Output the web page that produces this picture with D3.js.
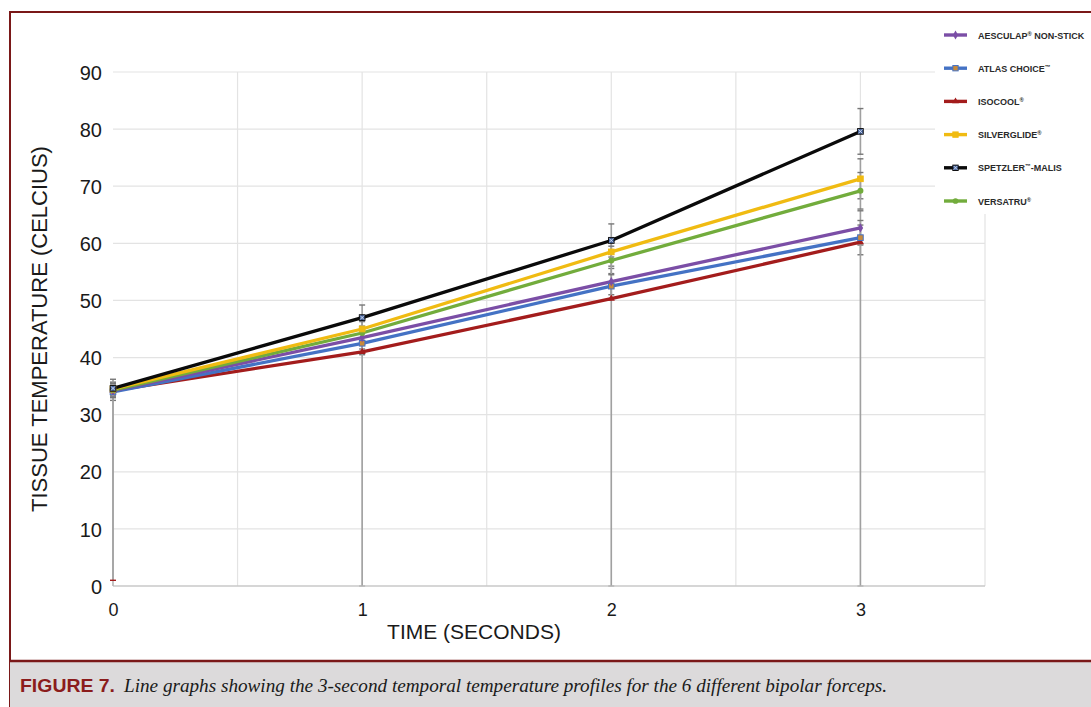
<!DOCTYPE html>
<html>
<head>
<meta charset="utf-8">
<script src="https://cdn.jsdelivr.net/npm/d3@7"></script>
<style>
  body { margin: 0; background: #fff; }
  svg { display: block; }
</style>
</head>
<body>
<div id="chart"></div>
<script>
// data
const times = [0, 1, 2, 3];
const names = ["AESCULAP", "ATLAS CHOICE", "ISOCOOL", "SILVERGLIDE", "SPETZLER", "VERSATRU"];
const marks = ["®", "™", "®", "®", "™", "®"];
const suffix = [" NON-STICK", "", "", "", "-MALIS", ""];

const aesculap = [34.2, 43.5, 53.3, 62.7];
const atlas = [34.0, 42.5, 52.5, 61.0];
const isocool = [34.2, 41.0, 50.3, 60.2];
const silverglide = [34.5, 45.0, 58.5, 71.3];
const spetzler = [34.6, 47.0, 60.5, 79.6];
const versatru = [34.3, 44.3, 57.0, 69.2];

const errUp = [
  [1.2, 2.0, 2.3, 3.0],
  [1.5, 2.0, 2.2, 3.0],
  [1.2, 2.0, 2.3, 3.0],
  [1.2, 2.0, 2.5, 3.5],
  [1.6, 2.2, 2.9, 4.0],
  [1.2, 2.0, 2.5, 3.2]
];
const errDown = [
  [1.2, 2.0, 2.3, 3.0],
  [1.5, 2.0, 2.2, 3.0],
  [33.2, 41.0, 50.3, 60.2],
  [1.2, 2.0, 2.5, 3.5],
  [1.6, 2.2, 2.9, 4.0],
  [1.2, 2.0, 2.5, 3.2]
];
const yTicks = [0, 10, 20, 30, 40, 50, 60, 70, 80, 90];
const xTicks = [0, 1, 2, 3];

const values = [aesculap, atlas, isocool, silverglide, spetzler, versatru];
const colors = ["#7b4ea6", "#4472c4", "#a31c1c", "#f0bb12", "#0a0a0a", "#72ac3c"];
const shapes = ["diamond", "square", "triangle", "square", "squareX", "circle"];
const markFill = ["#7b4ea6", "#c98a3a", "#a31c1c", "#f0bb12", "#4a6aa8", "#72ac3c"];

const W = 1091, H = 707;
const svg = d3.select("#chart").append("svg").attr("width", W).attr("height", H);

const x = d3.scaleLinear().domain([0, 3.5]).range([113, 985]);
const y = d3.scaleLinear().domain([0, 90]).range([586, 72]);

// frame
const frameCol = "#7a1818";
svg.append("rect").attr("x", 10).attr("y", 12).attr("width", W).attr("height", H)
  .attr("fill", "#fff").attr("stroke", frameCol).attr("stroke-width", 2);

// gridlines
svg.append("g").selectAll("line").data(yTicks.slice(1)).join("line")
  .attr("x1", x(0)).attr("x2", x(3.5))
  .attr("y1", d => y(d)).attr("y2", d => y(d))
  .attr("stroke", "#e3e3e3").attr("stroke-width", 1.2);
svg.append("g").selectAll("line").data(d3.range(0.5, 3.51, 0.5)).join("line")
  .attr("x1", d => x(d)).attr("x2", d => x(d))
  .attr("y1", y(0)).attr("y2", y(90))
  .attr("stroke", "#e3e3e3").attr("stroke-width", 1.2);
// axes lines
svg.append("line").attr("x1", x(0)).attr("x2", x(3.5)).attr("y1", y(0)).attr("y2", y(0))
  .attr("stroke", "#c8c8c8").attr("stroke-width", 1.4);
svg.append("line").attr("x1", x(0)).attr("x2", x(0)).attr("y1", y(0)).attr("y2", y(36))
  .attr("stroke", "#b5b5b5").attr("stroke-width", 1.6);

// tick labels via axes
const yAxis = svg.append("g").attr("transform", `translate(${x(0)},0)`)
  .call(d3.axisLeft(y).tickValues(yTicks).tickSize(0).tickPadding(11));
const xAxis = svg.append("g").attr("transform", `translate(0,${y(0)})`)
  .call(d3.axisBottom(x).tickValues(xTicks).tickFormat(d3.format("d")).tickSize(0).tickPadding(17));
[yAxis, xAxis].forEach(a => {
  a.select(".domain").remove();
  a.selectAll("text").attr("font-family", "Liberation Sans, Arial, sans-serif").attr("fill", "#1a1a1a");
});
yAxis.selectAll("text").attr("font-size", 20).attr("dy", "0.36em");
xAxis.selectAll("text").attr("font-size", 18);

// axis titles
svg.append("text").attr("x", 474).attr("y", 639).attr("text-anchor", "middle")
  .attr("font-family", "Liberation Sans, Arial, sans-serif").attr("font-size", 21).attr("fill", "#1a1a1a")
  .text("TIME (SECONDS)");
svg.append("text").attr("transform", `translate(47,${y(45)}) rotate(-90)`).attr("text-anchor", "middle")
  .attr("font-family", "Liberation Sans, Arial, sans-serif").attr("font-size", 22).attr("fill", "#1a1a1a")
  .text("TISSUE TEMPERATURE (CELCIUS)");

// error bars
const eb = svg.append("g");
values.forEach((vals, s) => {
  vals.forEach((v, i) => {
    const hi = v + errUp[s][i], lo = v - errDown[s][i];
    const cx = x(times[i]);
    eb.append("line").attr("x1", cx).attr("x2", cx).attr("y1", y(lo)).attr("y2", y(hi))
      .attr("stroke", "#a0a0a0").attr("stroke-width", 1.6);
    [hi, lo].forEach(b => {
      let c = "#777";
      if (b < 5) c = i === 0 ? "#a31c1c" : "#b5b5b5";
      eb.append("line").attr("x1", cx - 3).attr("x2", cx + 3).attr("y1", y(b)).attr("y2", y(b))
        .attr("stroke", c).attr("stroke-width", 1.4);
    });
  });
});

// lines
const line = d3.line().x((d, i) => x(times[i])).y(d => y(d));
const order = [2, 1, 0, 5, 3, 4];
order.forEach(s => {
  svg.append("path").datum(values[s]).attr("d", line)
    .attr("fill", "none").attr("stroke", colors[s]).attr("stroke-width", 3.3)
    .attr("stroke-linejoin", "round");
});

function drawMarker(g, shape, cx, cy, s, sz) {
  if (shape === "circle") {
    g.append("circle").attr("cx", cx).attr("cy", cy).attr("r", sz * 0.75).attr("fill", markFill[s]);
  } else if (shape === "diamond") {
    g.append("path").attr("d", d3.symbol(d3.symbolDiamond, sz * sz * 1.6)()).attr("transform", `translate(${cx},${cy})`)
      .attr("fill", markFill[s]);
  } else if (shape === "triangle") {
    g.append("path").attr("d", d3.symbol(d3.symbolTriangle, sz * sz * 1.4)()).attr("transform", `translate(${cx},${cy})`)
      .attr("fill", markFill[s]);
  } else {
    g.append("rect").attr("x", cx - sz * 0.7).attr("y", cy - sz * 0.7).attr("width", sz * 1.4).attr("height", sz * 1.4)
      .attr("fill", markFill[s]).attr("stroke", colors[s]).attr("stroke-width", 1);
    if (shape === "squareX") {
      g.append("path").attr("d", `M${cx - sz * 0.5},${cy - sz * 0.5}L${cx + sz * 0.5},${cy + sz * 0.5}M${cx + sz * 0.5},${cy - sz * 0.5}L${cx - sz * 0.5},${cy + sz * 0.5}`)
        .attr("stroke", "#dfe6f2").attr("stroke-width", 0.8);
    }
  }
}

const mk = svg.append("g");
order.forEach(s => {
  values[s].forEach((v, i) => drawMarker(mk, shapes[s], x(times[i]), y(v), s, 4));
});

// legend
const leg = svg.append("g");
leg.append("rect").attr("x", 935).attr("y", 14).attr("width", 160).attr("height", 200).attr("fill", "#fff");
names.forEach((n, s) => {
  const ly = 35 + s * 33.2;
  leg.append("line").attr("x1", 944).attr("x2", 967).attr("y1", ly).attr("y2", ly)
    .attr("stroke", colors[s]).attr("stroke-width", 3.4);
  drawMarker(leg, shapes[s], 955.5, ly, s, 3.8);
  const t = leg.append("text").attr("x", 978).attr("y", ly + 3.5)
    .attr("font-family", "Liberation Sans, Arial, sans-serif").attr("font-size", 9)
    .attr("font-weight", "bold").attr("fill", "#2a2a2a");
  t.append("tspan").text(n);
  t.append("tspan").attr("font-size", 5.8).attr("dy", -3).text(marks[s]);
  if (suffix[s]) t.append("tspan").attr("dy", 3).text(suffix[s]);
});

// caption
svg.append("rect").attr("x", 10).attr("y", 661).attr("width", W).attr("height", 50)
  .attr("fill", "#dcdadb");
svg.append("line").attr("x1", 10).attr("x2", W).attr("y1", 661).attr("y2", 661)
  .attr("stroke", frameCol).attr("stroke-width", 2.5);
svg.append("text").attr("x", 20).attr("y", 692)
  .attr("font-family", "Liberation Sans Narrow, Liberation Sans, Arial, sans-serif").attr("font-size", 18)
  .attr("font-weight", "bold").attr("fill", "#8b1c1c").attr("textLength", 95).attr("lengthAdjust", "spacingAndGlyphs")
  .text("FIGURE 7.");
svg.append("text").attr("x", 124).attr("y", 692)
  .attr("font-family", "Liberation Serif, DejaVu Serif, serif").attr("font-size", 18)
  .attr("font-style", "italic").attr("fill", "#1a1a1a").attr("textLength", 763).attr("lengthAdjust", "spacingAndGlyphs")
  .text("Line graphs showing the 3-second temporal temperature profiles for the 6 different bipolar forceps.");
</script>
</body>
</html>
